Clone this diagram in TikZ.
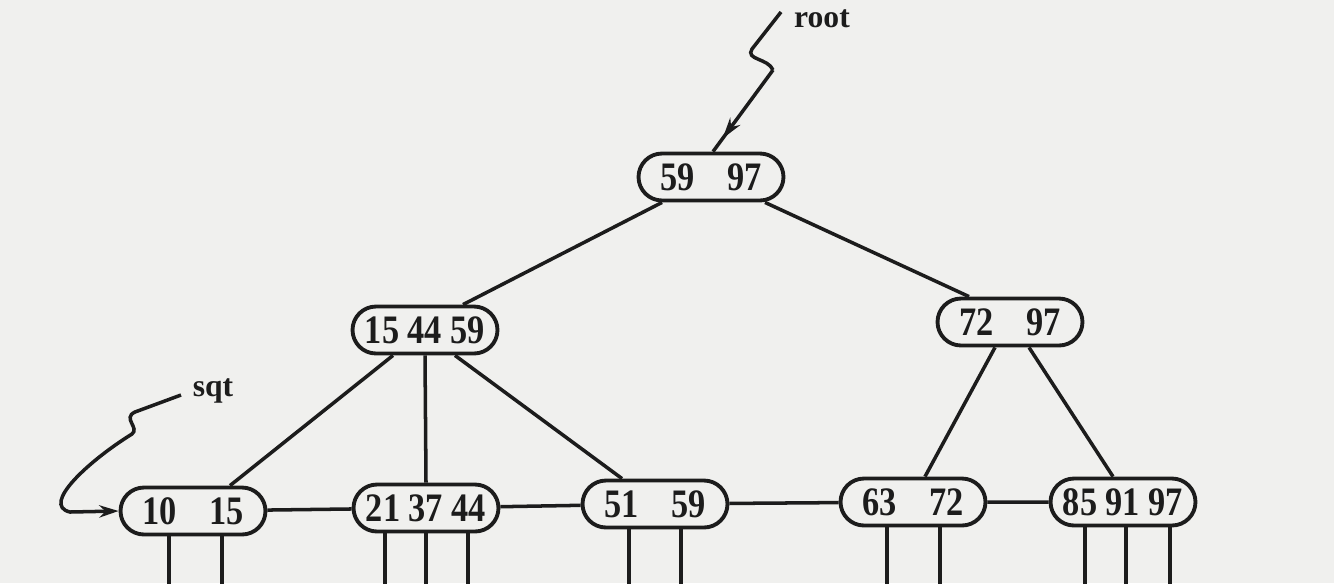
\documentclass[tikz,border=0pt]{standalone}
\usepackage{fontspec}
\setmainfont{Liberation Serif}
\newfontfamily\keyfont[FakeStretch=0.85]{Liberation Serif}
\usetikzlibrary{calc,arrows.meta,shapes.misc,decorations.markings}
\definecolor{scanbg}{RGB}{240,240,238}
\definecolor{ink}{RGB}{28,28,28}

\begin{document}
\begin{tikzpicture}[x=0.02cm,y=-0.02cm,line width=2pt,color=ink,
  keys/.style={rounded rectangle,draw,line width=2.2pt,minimum width=2.9cm,minimum height=0.94cm,inner sep=0pt,font=\keyfont\fontsize{23}{23}\selectfont\bfseries},
  lbl/.style={font=\fontsize{18}{18}\selectfont\bfseries},
  tip/.style={-{Stealth[length=11pt,width=7pt]}},
  midtip/.style={postaction={decorate},decoration={markings,mark=at position 0.84 with {\arrow{Stealth[length=12pt,width=7pt]}}}}]
\fill[scanbg] (0,0) rectangle (1334,583);
\useasboundingbox (0,0) rectangle (1334,583);

\node[keys] (r) at (711,177) {59\hspace{0.8em}97}; %root
\node[keys] (a) at (425,330) {15 44 59};
\node[keys] (b) at (1010,322) {72\hspace{0.8em}97};
\node[keys] (l1) at (193,511) {10\hspace{0.8em}15}; %leaves
\node[keys] (l2) at (426,508) {21 37 44};
\node[keys] (l3) at (655,504) {51\hspace{0.8em}59};
\node[keys] (l4) at (913,502) {63\hspace{0.8em}72};
\node[keys] (l5) at (1123,502) {85 91 97};

\draw ($(r.south)+(-49,0)$) -- ($(a.north)+(38,0)$);
\draw ($(r.south)+(54,0)$) -- ($(b.north)+(-41,0)$);
\draw ($(a.south)+(-32,0)$) -- ($(l1.north)+(37,0)$);
\draw (a.south) -- (l2.north);
\draw ($(a.south)+(30,0)$) -- ($(l3.north)+(-33,0)$);
\draw ($(b.south)+(-15,0)$) -- ($(l4.north)+(12,0)$);
\draw ($(b.south)+(19,0)$) -- ($(l5.north)+(-10,0)$);

%sequence links
\draw (l1) -- (l2);
\draw (l2) -- (l3);
\draw (l3) -- (l4);
\draw (l4) -- (l5);

%record pointers
\foreach \dx in {-24,29} \draw ($(l1.south)+(\dx,0)$) -- ++(0,60);
\foreach \dx in {-41,0,42} \draw ($(l2.south)+(\dx,0)$) -- ++(0,60);
\foreach \dx in {-26,26} \draw ($(l3.south)+(\dx,0)$) -- ++(0,60);
\foreach \dx in {-26,27} \draw ($(l4.south)+(\dx,0)$) -- ++(0,60);
\foreach \dx in {-38,3,47} \draw ($(l5.south)+(\dx,0)$) -- ++(0,60);

\node[lbl] (rootlbl) at (822,19) {root};
\coordinate (rs) at (781,12);
\draw (rs) -- (752,49) .. controls (745,60) and (768,58) .. (773,70) coordinate (rk);
\draw[midtip] (rk) -- ($(r.north)+(2,0)$);

\node[lbl] (sqtlbl) at (213,391) {sqt};
\coordinate (ss) at (181,395);
\draw[tip] (ss) -- (135,412) .. controls (122,418) and (140,428) .. (132,434) .. controls (90,460) and (40,505) .. (70,512) -- (l1.west);
\end{tikzpicture}
\end{document}
